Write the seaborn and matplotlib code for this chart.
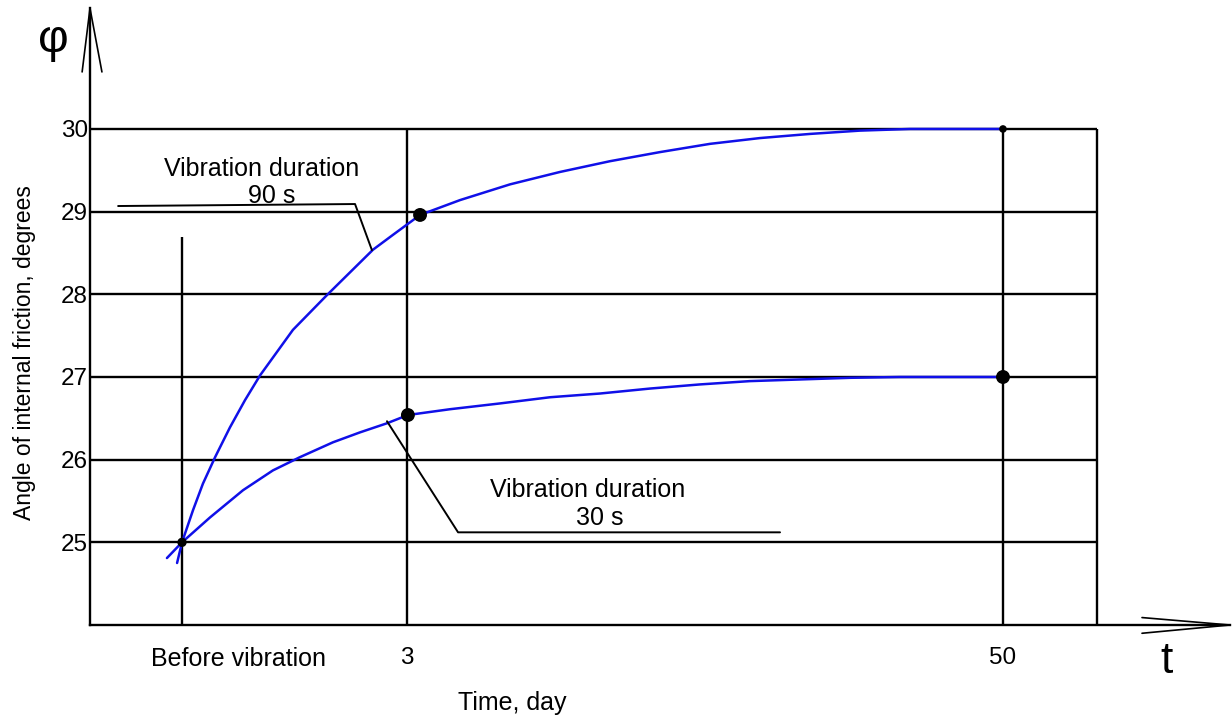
import numpy as np
import matplotlib
matplotlib.use("Agg")
import matplotlib.pyplot as plt
import matplotlib.transforms as mtransforms
import pandas as pd
import seaborn as sns

# --- data (x is a schematic position: 0 = before, 1 = day 3, 3.649 = day 50) ---
tick_pos = [0, 1, 3.649]
tick_labels = ["Before vibration", "3", "50"]
y_levels = [25, 26, 27, 28, 29, 30]

# vibration duration 90 s
u90 = [-0.022, 0, 0.049, 0.093, 0.147, 0.213, 0.28, 0.347, 0.493, 0.644, 0.849, 0.938,
       1.058, 1.236, 1.458, 1.68, 1.902, 2.124, 2.347, 2.569, 2.791, 3.013, 3.236, 3.649]
phi90 = [24.75, 25.0, 25.39, 25.71, 26.03, 26.39, 26.72, 27.02, 27.57, 27.99, 28.54, 28.72,
         28.96, 29.14, 29.33, 29.48, 29.61, 29.72, 29.82, 29.89, 29.94, 29.98, 30.0, 30.0]

# vibration duration 30 s
u30 = [-0.067, 0, 0.124, 0.271, 0.404, 0.524, 0.671, 0.791, 0.911, 1.004, 1.191, 1.413,
       1.636, 1.858, 2.08, 2.302, 2.524, 2.747, 2.969, 3.191, 3.649]
phi30 = [24.81, 25.0, 25.30, 25.63, 25.87, 26.03, 26.21, 26.33, 26.44, 26.54, 26.61, 26.68,
         26.755, 26.80, 26.86, 26.91, 26.95, 26.97, 26.99, 27.0, 27.0]

# measured points
pt_u = [0, 1.058, 1.004, 3.649, 3.649]
pt_phi = [25.0, 28.96, 26.54, 30.0, 27.0]
pt_size = [45, 100, 100, 30, 100]

# --- style ---
sns.set_style("white")
plt.rcParams["font.family"] = ["Liberation Sans", "DejaVu Sans"]
plt.rcParams["text.color"] = "black"
plt.rcParams["axes.labelcolor"] = "black"
plt.rcParams["xtick.color"] = "black"
plt.rcParams["ytick.color"] = "black"

W, H = 1232, 717
fig = plt.figure(figsize=(W / 100, H / 100), dpi=100)
ax = fig.add_axes([90 / W, (H - 625) / H, (W - 90) / W, 625 / H])

x_left, x_right = -0.409, 4.667
y_bot, y_top = 24.0, 31.56
ax.set_xlim(x_left, x_right)
ax.set_ylim(y_bot, y_top)

lw = 1.7
k = "black"

# grid of the diagram
frame_right = 4.067
ax.hlines(y_levels, x_left, frame_right, color=k, lw=lw)
ax.vlines([1, 3.649, frame_right], y_bot, 30, color=k, lw=lw)
ax.vlines(0, y_bot, 28.69, color=k, lw=lw)

# axes with arrows
for s in ["top", "right"]:
    ax.spines[s].set_visible(False)
for s in ["left", "bottom"]:
    ax.spines[s].set_linewidth(lw)
    ax.spines[s].set_color(k)
ax.spines["left"].set_bounds(y_bot, 31.46)
ax.spines["bottom"].set_bounds(x_left, 4.658)
ax.plot([-0.444, -0.409, -0.356], [30.69, 31.46, 30.69], color=k, lw=1.2, clip_on=False)
ax.plot([4.267, 4.658, 4.267], [24.09, 24.0, 23.90], color=k, lw=1.2, clip_on=False)

# curves
curves = pd.DataFrame({
    "u": u90 + u30,
    "phi": phi90 + phi30,
    "dur": ["90 s"] * len(u90) + ["30 s"] * len(u30),
})
sns.lineplot(data=curves, x="u", y="phi", units="dur", estimator=None, sort=False,
             color="#1010e8", lw=1.8, ax=ax, legend=False)
sns.scatterplot(x=pt_u, y=pt_phi, s=pt_size, color="black", edgecolor="black",
                linewidth=0, zorder=5, ax=ax, legend=False)

# leader lines and notes
ax.plot([-0.284, 0.769, 0.844], [29.068, 29.092, 28.535], color=k, lw=1.4)
ax.plot([0.911, 1.227, 2.658], [26.465, 25.121, 25.121], color=k, lw=1.4)
fs = 18
ax.text(0.356, 29.516, "Vibration duration", ha="center", va="center", fontsize=fs)
ax.text(0.40, 29.189, "90 s", ha="center", va="center", fontsize=fs)
ax.text(1.804, 25.63, "Vibration duration", ha="center", va="center", fontsize=fs)
ax.text(1.858, 25.29, "30 s", ha="center", va="center", fontsize=fs)

ax.text(-0.573, 31.08, "φ", ha="center", va="center", fontsize=34)
ax.text(4.378, 23.56, "t", ha="center", va="center", fontsize=32, clip_on=False)

# ticks
ax.set_yticks(y_levels)
ax.set_yticklabels([str(v) for v in y_levels])
ax.set_xticks(tick_pos)
ax.set_xticklabels(tick_labels)
ax.tick_params(axis="y", length=0, pad=1.5, labelsize=17.5)
ax.tick_params(axis="x", length=0, pad=16, labelsize=17.5)
first = ax.get_xticklabels()[0]
first.set_fontsize(18)
first.set_transform(first.get_transform() + mtransforms.ScaledTranslation(0.56, 0, fig.dpi_scale_trans))

ax.set_xlabel("Time, day", fontsize=18, va="center")
ax.xaxis.set_label_coords((512 - 90) / (W - 90), (625 - 703) / 625)
ax.set_ylabel("Angle of internal friction, degrees", fontsize=16.5, va="center")
ax.yaxis.set_label_coords((25 - 90) / (W - 90), (625 - 353) / 625)

fig.savefig("out.png", dpi=100)
